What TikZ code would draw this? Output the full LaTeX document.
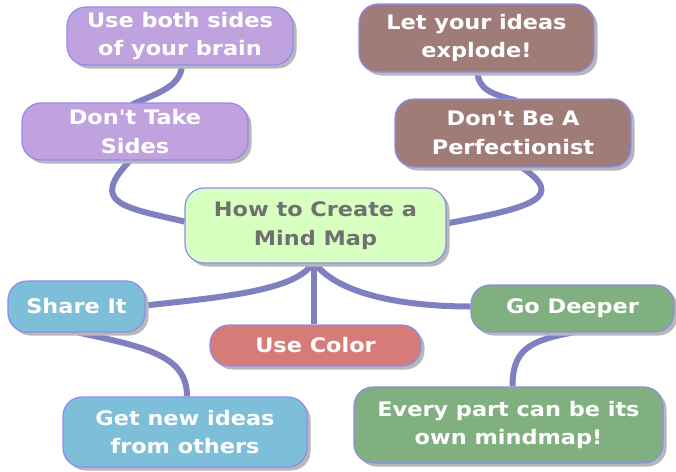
\documentclass[tikz,border=0pt]{standalone}
\usepackage{fontspec}
\setmainfont{DejaVu Sans}[Ligatures=TeXOff, FakeStretch=1.12]
\usetikzlibrary{shadows,backgrounds}
\definecolor{cpurple}{HTML}{C0A2DE}
\definecolor{cbrown}{HTML}{A07C78}
\definecolor{ccenter}{HTML}{D6FFC0}
\definecolor{ctext}{HTML}{707070}
\definecolor{cblue}{HTML}{7DBED8}
\definecolor{cred}{HTML}{D67C78}
\definecolor{cgreen}{HTML}{80B080}
\definecolor{cborder}{HTML}{8C8CF0}
\definecolor{clink}{HTML}{8080C0}
\tikzset{
  mmnode/.style={draw=cborder, line width=1.2pt, rounded corners=19pt, align=center,
    inner sep=0pt, text=white, font=\fontsize{20}{28.5}\selectfont\bfseries,
    drop shadow={shadow xshift=3.5pt, shadow yshift=-3.5pt, fill=black!28, opacity=1}},
  link/.style={draw=clink, line width=6pt}
}
\begin{document}
\begin{tikzpicture}[x=1pt,y=-1pt]
\useasboundingbox (0,0) rectangle (676,471);
\node[mmnode, fill=cpurple, minimum width=226pt, minimum height=58pt] (n1) at (180,36) {Use both sides\\of your brain};
\node[mmnode, fill=cpurple, minimum width=226pt, minimum height=57pt] (n2) at (135,131.5) {Don't Take\\Sides};
\node[mmnode, fill=ccenter, text=ctext, minimum width=261pt, minimum height=75pt] (c) at (315.5,225.5) {How to Create a\\Mind Map};
\node[mmnode, fill=cbrown, minimum width=235pt, minimum height=68pt] (n3) at (476.5,38) {Let your ideas\\explode!};
\node[mmnode, fill=cbrown, minimum width=236pt, minimum height=68pt] (n4) at (513,133) {Don't Be A\\Perfectionist};
\node[mmnode, fill=cblue, minimum width=137pt, minimum height=51pt] (share) at (76.5,306.5) {Share It};
\node[mmnode, fill=cred, minimum width=211pt, minimum height=41pt] (color) at (315.5,345.5) {Use Color};
\node[mmnode, fill=cgreen, minimum width=203pt, minimum height=47pt] (deep) at (572.5,308.5) {Go Deeper};
\node[mmnode, fill=cblue, minimum width=244pt, minimum height=70pt] (getnew) at (185,432) {Get new ideas\\from others};
\node[mmnode, fill=cgreen, minimum width=309pt, minimum height=76pt] (every) at (508.5,425) {Every part can be its\\own mindmap!};
\begin{scope}[on background layer]
\fill[white] (0,0) rectangle (676,471);
\draw[link] ([xshift=2pt,yshift=2pt]n1.south) .. controls +(0,22) and +(28,-12) .. ([xshift=-3pt,yshift=-2pt]n2.north);
\draw[link] ([xshift=-3pt,yshift=2pt]n2.south) .. controls +(-45,45) and +(-60,-14) .. ([yshift=4pt]c.west);
\draw[link] ([xshift=1pt,yshift=2pt]n3.south) .. controls +(0,20) and +(-22,-6) .. ([xshift=3pt,yshift=-2pt]n4.north);
\draw[link] ([xshift=6pt,yshift=2pt]n4.south) .. controls +(50,32) and +(85,-16) .. ([yshift=2pt]c.east);
\draw[link] ([xshift=-2pt,yshift=2pt]c.south) .. controls +(-15,30) and +(70,-8) .. ([yshift=1pt]share.east);
\draw[link] ([xshift=-2pt]c.south) -- ([xshift=-2pt]color.north);
\draw[link] ([xshift=-2pt,yshift=2pt]c.south) .. controls +(25,35) and +(-60,0) .. ([yshift=2pt]deep.west);
\draw[link] ([xshift=2pt]share.south) .. controls +(70,15) and +(0,-40) .. ([xshift=2pt]getnew.north);
\draw[link] (deep.south) .. controls +(-45,8) and +(0,-35) .. ([xshift=4pt]every.north);
\end{scope}
\end{tikzpicture}
\end{document}
